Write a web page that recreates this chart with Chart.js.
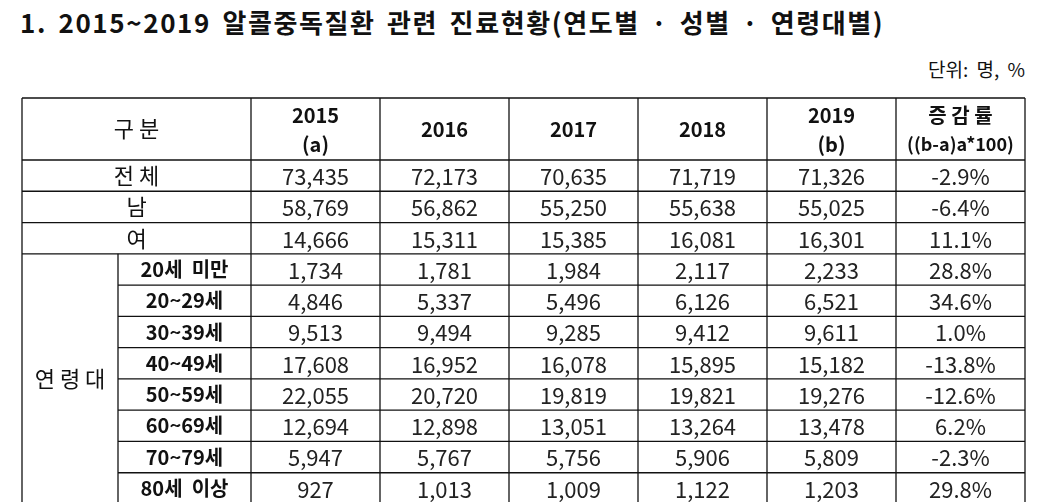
<!DOCTYPE html>
<html><head><meta charset="utf-8">
<script src="https://cdn.jsdelivr.net/npm/chart.js@4"></script>
<style>
html,body{margin:0;padding:0;background:#fff;overflow:hidden;width:1041px;height:502px;font-family:"Noto Sans CJK KR",sans-serif}
#title{position:absolute;left:20px;top:3px;font-size:26px;font-weight:bold;color:#111;white-space:nowrap;letter-spacing:1.6px;word-spacing:4px}
#unit{position:absolute;right:16px;top:55px;font-size:19px;color:#111;word-spacing:4px}
#wrap{position:absolute;left:0;top:0;width:1041px;height:520px}
</style></head><body>
<div id="title">1. 2015~2019 알콜중독질환 관련 진료현황(연도별 · 성별 · 연령대별)</div>
<div id="unit">단위: 명, %</div>
<div id="wrap"><canvas id="c"></canvas></div>
<script>
const columns = ["2015\n(a)","2016","2017","2018","2019\n(b)","증감률\n((b-a)a*100)"];
const rows = ["전체","남","여","20세  미만","20~29세","30~39세","40~49세","50~59세","60~69세","70~79세","80세  이상"];
const groupLabel = "연령대";
const v2015 = [73435,58769,14666,1734,4846,9513,17608,22055,12694,5947,927];
const v2016 = [72173,56862,15311,1781,5337,9494,16952,20720,12898,5767,1013];
const v2017 = [70635,55250,15385,1984,5496,9285,16078,19819,13051,5756,1009];
const v2018 = [71719,55638,16081,2117,6126,9412,15895,19821,13264,5906,1122];
const v2019 = [71326,55025,16301,2233,6521,9611,15182,19276,13478,5809,1203];
const rate = ["-2.9%","-6.4%","11.1%","28.8%","34.6%","1.0%","-13.8%","-12.6%","6.2%","-2.3%","29.8%"];
const series = [v2015,v2016,v2017,v2018,v2019];
const fmt = n => n.toLocaleString("en-US");

const tablePlugin = {
  id:"table",
  afterDraw(chart){
    const ctx = chart.ctx, xs = chart.scales.x, ys = chart.scales.y, ca = chart.chartArea;
    const left = 22, subLeft = 118, headTop = 98;
    const colW = xs.getPixelForValue(1)-xs.getPixelForValue(0);
    const rowH = ys.getPixelForValue(1)-ys.getPixelForValue(0);
    ctx.save();
    ctx.strokeStyle="#111"; ctx.lineWidth=1.3;
    const line=(x1,y1,x2,y2)=>{ctx.beginPath();ctx.moveTo(x1,y1);ctx.lineTo(x2,y2);ctx.stroke();};
    line(left,headTop,ca.right,headTop);
    for(let j=0;j<=rows.length;j++){
      const y = ys.getPixelForValue(j)-rowH/2;
      line(j>=4 && j<rows.length ? subLeft : left, y, ca.right, y);
    }
    const bottom = ys.getPixelForValue(rows.length-1)+rowH/2;
    line(left,headTop,left,bottom);
    for(let i=0;i<=columns.length;i++){
      const x = xs.getPixelForValue(i)-colW/2;
      line(x,headTop,x,bottom);
    }
    line(subLeft, ys.getPixelForValue(3)-rowH/2, subLeft, bottom);
    ctx.fillStyle="#111"; ctx.textAlign="center"; ctx.textBaseline="middle";
    ctx.font='bold 20px "Noto Sans CJK KR"';
    const hMid=(headTop+ca.top)/2;
    ctx.font='22px "Noto Sans CJK KR"';
    ctx.fillText("구 분",(left+ca.left)/2,hMid);
    ctx.font='bold 20px "Noto Sans CJK KR"';
    columns.forEach((c,i)=>{
      const parts=c.split("\n"), x=xs.getPixelForValue(i);
      if(i===5){ctx.fillText("증 감 률",x,hMid-14);ctx.font='bold 18px "Noto Sans CJK KR"';ctx.fillText(parts[1],x,hMid+15);ctx.font='bold 20px "Noto Sans CJK KR"';}
      else if(parts.length>1){ctx.fillText(parts[0],x,hMid-14);ctx.fillText(parts[1],x,hMid+15);}
      else ctx.fillText(c,x,hMid);
    });
    rows.forEach((r,j)=>{
      const y=ys.getPixelForValue(j);
      if(j<3){ctx.font='22px "Noto Sans CJK KR"';ctx.fillText(r.split("").join(" "),(left+ca.left)/2,y);}
      else {ctx.font='bold 20px "Noto Sans CJK KR"';ctx.fillText(r,(subLeft+ca.left)/2,y);}
    });
    ctx.font='22px "Noto Sans CJK KR"';
    ctx.fillText(groupLabel.split("").join(" "),(left+subLeft)/2,(ys.getPixelForValue(3)-rowH/2+bottom)/2);
    ctx.fillStyle="#222";
    series.forEach((s,i)=>s.forEach((v,j)=>ctx.fillText(fmt(v),xs.getPixelForValue(i),ys.getPixelForValue(j)+1)));
    rate.forEach((v,j)=>ctx.fillText(v,xs.getPixelForValue(5),ys.getPixelForValue(j)+1));
    ctx.restore();
  }
};

new Chart(document.getElementById("c"),{
  type:"bar",
  data:{labels:columns.map((c,i)=>i),datasets:[{data:[],backgroundColor:"transparent"}]},
  options:{
    responsive:true,maintainAspectRatio:false,animation:false,
    layout:{padding:{left:251,right:16,top:160,bottom:16}},
    plugins:{legend:{display:false},tooltip:{enabled:false}},
    scales:{
      x:{type:"category",labels:columns.map((c,i)=>i),offset:true,display:false},
      y:{type:"category",labels:rows.map((r,j)=>j),offset:true,display:false}
    }
  },
  plugins:[tablePlugin]
});
</script>
</body></html>
